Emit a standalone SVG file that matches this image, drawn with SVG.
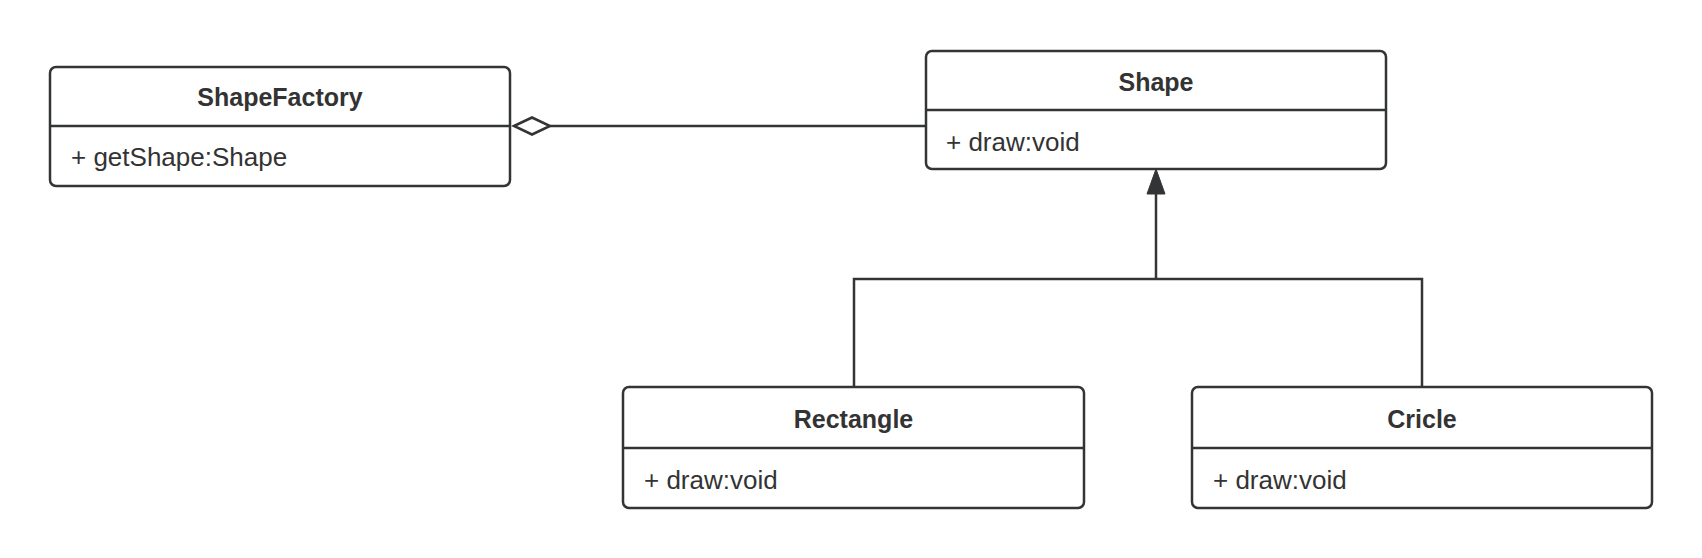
<svg xmlns="http://www.w3.org/2000/svg" width="1702" height="558" viewBox="0 0 1702 558">
<style>
.box{fill:#ffffff;stroke:#323436;stroke-width:2.5}
.div{stroke:#323436;stroke-width:2.5}
.title{font-family:"Liberation Sans",Arial,sans-serif;font-size:25px;font-weight:bold;fill:#333333;text-anchor:middle}
.body{font-family:"Liberation Sans",Arial,sans-serif;font-size:26px;fill:#333333}
.conn{fill:none;stroke:#323436;stroke-width:2.5}
</style>
<rect width="1702" height="558" fill="#ffffff"/>
<g id="connectors">
<line class="conn" x1="550" y1="126" x2="926" y2="126"/>
<polygon points="514,126 532,117.5 550,126 532,134.5" fill="#ffffff" stroke="#323436" stroke-width="2.5"/>
<polyline class="conn" points="854,387 854,279 1422,279 1422,387"/>
<line class="conn" x1="1156" y1="279" x2="1156" y2="192"/>
<polygon points="1156,169 1165,194 1147,194" fill="#323436" stroke="#323436" stroke-width="1"/>
</g>
<g id="ShapeFactory">
<rect class="box" x="50" y="67" width="460" height="119" rx="6"/>
<line class="div" x1="50" y1="126" x2="510" y2="126"/>
<text class="title" x="280" y="106">ShapeFactory</text>
<text class="body" x="71" y="166">+ getShape:Shape</text>
</g>
<g id="Shape">
<rect class="box" x="926" y="51" width="460" height="118" rx="6"/>
<line class="div" x1="926" y1="110" x2="1386" y2="110"/>
<text class="title" x="1156" y="91">Shape</text>
<text class="body" x="946" y="151">+ draw:void</text>
</g>
<g id="Rectangle">
<rect class="box" x="623" y="387" width="461" height="121" rx="6"/>
<line class="div" x1="623" y1="448" x2="1084" y2="448"/>
<text class="title" x="853.5" y="428">Rectangle</text>
<text class="body" x="644" y="489">+ draw:void</text>
</g>
<g id="Cricle">
<rect class="box" x="1192" y="387" width="460" height="121" rx="6"/>
<line class="div" x1="1192" y1="448" x2="1652" y2="448"/>
<text class="title" x="1422" y="428">Cricle</text>
<text class="body" x="1213" y="489">+ draw:void</text>
</g>
</svg>
